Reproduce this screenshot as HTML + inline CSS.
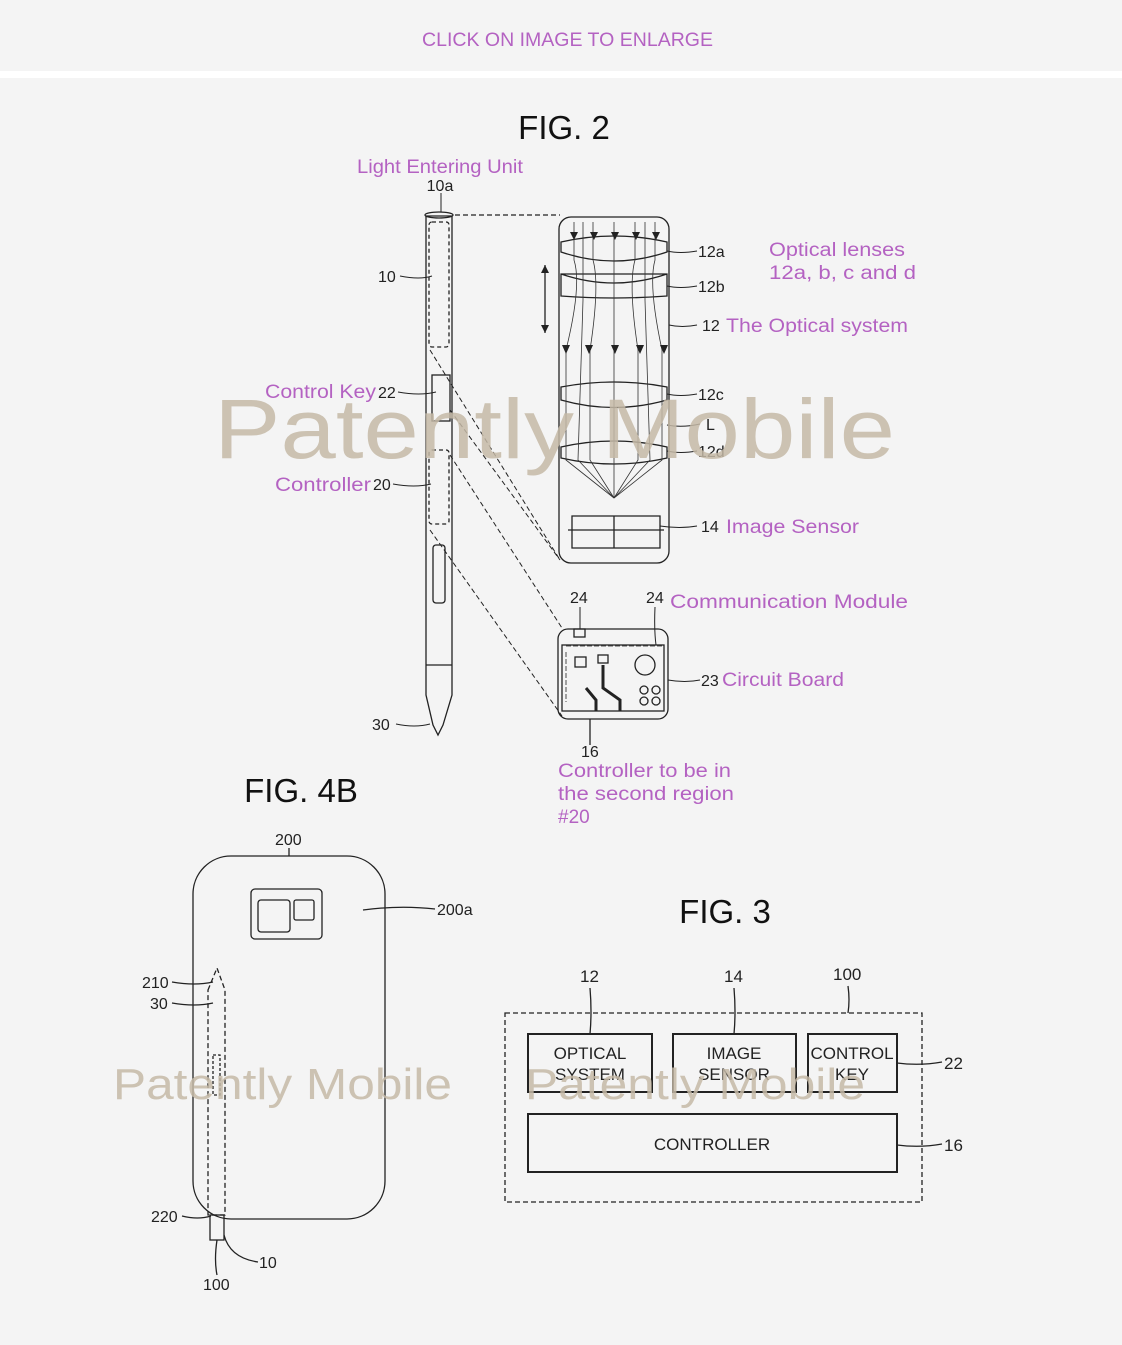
<!DOCTYPE html>
<html><head><meta charset="utf-8"><style>
html,body{margin:0;padding:0;background:#f4f4f4;}
svg{display:block;font-family:"Liberation Sans",sans-serif;}
.p{fill:#b462c2;font-size:19px;}
.n{fill:#222;font-size:16px;}
</style></head><body>
<svg width="1122" height="1345" viewBox="0 0 1122 1345">
<rect width="1122" height="1345" fill="#f4f4f4"/>
<rect y="71" width="1122" height="7" fill="#fff"/>
<text x="422" y="46" class="p" textLength="291" lengthAdjust="spacingAndGlyphs">CLICK ON IMAGE TO ENLARGE</text>
<text x="564" y="139" text-anchor="middle" style="font-size:33px" fill="#111">FIG. 2</text>
<text x="357" y="173" class="p" textLength="166" lengthAdjust="spacingAndGlyphs">Light Entering Unit</text>
<text x="440" y="191" text-anchor="middle" class="n">10a</text>
<g fill="none" stroke="#222" stroke-width="1.3">
<path d="M426 216 L426 695 L433 725 L438 735 L443 725 L452 695 L452 216 Z"/>
<ellipse cx="439" cy="215" rx="14" ry="3"/>
<rect x="429" y="222" width="20" height="125" rx="3" stroke-dasharray="4 3"/>
<rect x="432" y="375" width="18" height="46"/>
<rect x="429" y="450" width="20" height="74" rx="3" stroke-dasharray="4 3"/>
<rect x="433" y="545" width="12" height="58" rx="3"/>
<line x1="426" y1="665" x2="452" y2="665"/>
<path d="M455 215 L560 215" stroke-dasharray="5 3"/>
<path d="M430 350 L560 560" stroke-dasharray="5 3" stroke-width="1"/>
<path d="M450 410 L560 560" stroke-dasharray="5 3" stroke-width="1"/>
<path d="M450 455 L562 628" stroke-dasharray="5 3" stroke-width="1"/>
<path d="M430 530 L562 716" stroke-dasharray="5 3" stroke-width="1"/>
<rect x="559" y="217" width="110" height="346" rx="12"/>
<path d="M561 242 Q614 230 667 242 L667 252 Q614 270 561 252 Z"/>
<path d="M561 274 L667 274 L667 296 Q614 300 561 296 Z M561 274 Q614 292 667 274"/>
<path d="M561 387 Q614 377 667 387 L667 400 Q614 415 561 400 Z"/>
<path d="M561 447 Q614 435 667 447 L667 458 Q614 470 561 458 Z"/>
<path d="M572 516 L660 516 L660 548 L572 548 Z M568 530 L664 530 M614 516 L614 548"/>
<line x1="545" y1="265" x2="545" y2="333"/>
</g>
<g stroke="#333" stroke-width="0.8" fill="none">
<path d="M574 222 L574 260 Q582 285 566 350 L566 460 L614 498"/>
<path d="M593 222 L593 260 Q600 285 590 350 L590 460 L614 498"/>
<path d="M614 222 L614 498"/>
<path d="M635 222 L635 260 Q628 285 638 350 L638 460 L614 498"/>
<path d="M655 222 L655 260 Q648 285 662 350 L662 460 L614 498"/>
<path d="M583 222 L583 300 L578 460 L614 498"/>
<path d="M645 222 L645 300 L650 460 L614 498"/>
</g>
<g fill="#222">
<path d="M570 232 l4 8 4-8z M590 232 l4 8 4-8z M611 232 l4 8 4-8z M632 232 l4 8 4-8z M652 232 l4 8 4-8z"/>
<path d="M562 345 l4 9 4-9z M585 345 l4 9 4-9z M611 345 l4 9 4-9z M636 345 l4 9 4-9z M660 345 l4 9 4-9z"/>
<path d="M541 273 l4 -8 4 8z M541 325 l4 8 4-8z"/>
</g>
<g fill="none" stroke="#222" stroke-width="1.3">
<rect x="558" y="629" width="110" height="90" rx="10"/>
<rect x="562" y="645" width="102" height="66"/>
<rect x="574" y="629" width="11" height="8"/>
<rect x="575" y="657" width="11" height="10"/>
<rect x="598" y="655" width="10" height="8"/>
<circle cx="645" cy="665" r="10"/>
<circle cx="644" cy="690" r="4"/><circle cx="656" cy="690" r="4"/><circle cx="644" cy="701" r="4"/><circle cx="656" cy="701" r="4"/>
<path d="M566 646 h96" stroke-width="0.8" stroke-dasharray="5 2"/>
<path d="M566 652 v50" stroke-width="0.8" stroke-dasharray="5 2"/>
<path d="M603 665 L603 688 L620 700 L620 711" stroke-width="3"/>
<path d="M586 688 L596 700 L596 711" stroke-width="3"/>
<line x1="590" y1="719" x2="590" y2="745"/>
</g>
<g fill="none" stroke="#222" stroke-width="1">
<path d="M400 276 Q420 280 432 276"/>
<path d="M398 392 Q420 396 436 392"/>
<path d="M393 484 Q415 488 431 484"/>
<path d="M396 724 Q415 728 430 724"/>
<path d="M667 251 Q680 254 697 251"/>
<path d="M667 286 Q680 289 697 286"/>
<path d="M669 325 Q682 328 697 325"/>
<path d="M667 394 Q680 397 697 394"/>
<path d="M667 425 Q682 428 700 424"/>
<path d="M667 451 Q680 454 697 451"/>
<path d="M660 526 Q680 529 697 526"/>
<path d="M668 680 Q685 683 700 680"/>
<path d="M655 607 Q654 630 656 645"/>
<path d="M580 607 L580 629"/>
<path d="M441 193 L441 212"/>
</g>
<g class="n">
<text x="378" y="282">10</text><text x="378" y="398">22</text><text x="373" y="490">20</text><text x="372" y="730">30</text>
<text x="698" y="257">12a</text><text x="698" y="292">12b</text><text x="702" y="331">12</text>
<text x="698" y="400">12c</text><text x="706" y="430">L</text><text x="698" y="457">12d</text>
<text x="701" y="532">14</text><text x="570" y="603">24</text><text x="646" y="603">24</text>
<text x="701" y="686">23</text><text x="581" y="757">16</text>
</g>
<g class="p">
<text x="769" y="256" textLength="136" lengthAdjust="spacingAndGlyphs">Optical lenses</text>
<text x="769" y="279" textLength="147" lengthAdjust="spacingAndGlyphs">12a, b, c and d</text>
<text x="726" y="332" textLength="182" lengthAdjust="spacingAndGlyphs">The Optical system</text>
<text x="265" y="398" textLength="111" lengthAdjust="spacingAndGlyphs">Control Key</text>
<text x="275" y="491" textLength="96" lengthAdjust="spacingAndGlyphs">Controller</text>
<text x="726" y="533" textLength="133" lengthAdjust="spacingAndGlyphs">Image Sensor</text>
<text x="670" y="608" textLength="238" lengthAdjust="spacingAndGlyphs">Communication Module</text>
<text x="722" y="686" textLength="122" lengthAdjust="spacingAndGlyphs">Circuit Board</text>
<text x="558" y="777" textLength="173" lengthAdjust="spacingAndGlyphs">Controller to be in</text>
<text x="558" y="800" textLength="176" lengthAdjust="spacingAndGlyphs">the second region</text>
<text x="558" y="823">#20</text>
</g>
<text x="301" y="802" text-anchor="middle" style="font-size:33px" fill="#111">FIG. 4B</text>
<g fill="none" stroke="#222" stroke-width="1.3">
<rect x="193" y="856" width="192" height="363" rx="38"/>
<rect x="251" y="889" width="71" height="50" rx="4"/>
<rect x="258" y="900" width="32" height="32" rx="3"/>
<rect x="294" y="900" width="20" height="20" rx="2"/>
<path d="M208 990 L217 968 L225 990 L225 1215 L208 1215 Z" stroke-dasharray="5 3"/>
<rect x="213" y="1055" width="7" height="40" stroke-dasharray="3 2"/>
<rect x="210" y="1215" width="14" height="25"/>
<path d="M363 910 Q400 905 435 909"/>
<path d="M172 982 Q195 986 213 982"/>
<path d="M172 1003 Q195 1007 213 1003"/>
<path d="M182 1216 Q198 1220 211 1216"/>
<path d="M217 1240 Q214 1260 217 1275"/>
<path d="M224 1235 Q230 1258 258 1262"/>
<path d="M289 848 L289 856"/>
</g>
<g class="n">
<text x="275" y="845">200</text><text x="437" y="915">200a</text><text x="142" y="988">210</text>
<text x="150" y="1009">30</text><text x="151" y="1222">220</text><text x="259" y="1268">10</text><text x="203" y="1290">100</text>
</g>
<text x="725" y="923" text-anchor="middle" style="font-size:33px" fill="#111">FIG. 3</text>
<g fill="none" stroke="#222" stroke-width="1.3">
<rect x="505" y="1013" width="417" height="189" stroke-dasharray="5 3"/>
<rect x="528" y="1034" width="124" height="58" stroke-width="2"/>
<rect x="673" y="1034" width="123" height="58" stroke-width="2"/>
<rect x="808" y="1034" width="89" height="58" stroke-width="2"/>
<rect x="528" y="1114" width="369" height="58" stroke-width="2"/>
<path d="M590 988 Q592 1012 590 1034"/>
<path d="M734 988 Q736 1012 734 1034"/>
<path d="M848 986 Q850 1000 848 1013"/>
<path d="M897 1063 Q920 1066 942 1062"/>
<path d="M897 1145 Q920 1148 942 1144"/>
</g>
<g class="n" style="font-size:17px">
<text x="580" y="982">12</text><text x="724" y="982">14</text><text x="833" y="980">100</text>
<text x="944" y="1069">22</text><text x="944" y="1151">16</text>
<text x="590" y="1059" text-anchor="middle">OPTICAL</text><text x="590" y="1080" text-anchor="middle">SYSTEM</text>
<text x="734" y="1059" text-anchor="middle">IMAGE</text><text x="734" y="1080" text-anchor="middle">SENSOR</text>
<text x="852" y="1059" text-anchor="middle">CONTROL</text><text x="852" y="1080" text-anchor="middle">KEY</text>
<text x="712" y="1150" text-anchor="middle">CONTROLLER</text>
</g>
<g fill="#c4b9a6" fill-opacity="0.85">
<text x="214" y="458" style="font-size:84px" textLength="681" lengthAdjust="spacingAndGlyphs">Patently Mobile</text>
<text x="113" y="1099" style="font-size:44px" textLength="339" lengthAdjust="spacingAndGlyphs">Patently Mobile</text>
<text x="525" y="1099" style="font-size:44px" textLength="340" lengthAdjust="spacingAndGlyphs">Patently Mobile</text>
</g>
</svg>
</body></html>
